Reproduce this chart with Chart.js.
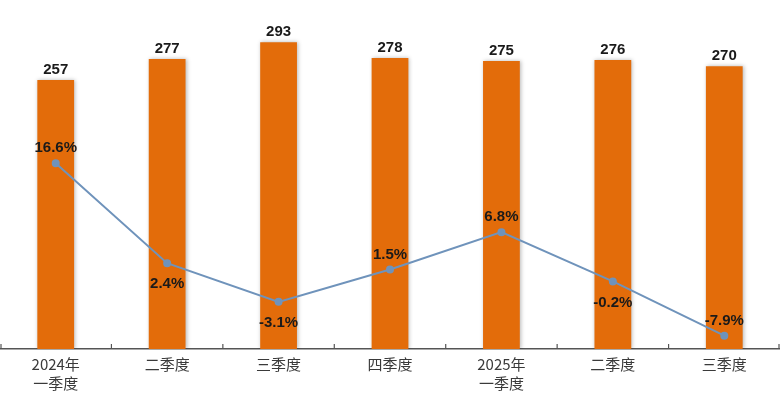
<!DOCTYPE html>
<html>
<head>
<meta charset="utf-8">
<script src="https://cdn.jsdelivr.net/npm/chart.js@4"></script>
<style>
  body { margin: 0; background: #fff; }
  #wrap { width: 780px; height: 396px; position: relative; }
</style>
</head>
<body>
<div id="wrap"><canvas id="c"></canvas></div>
<script>
// quarter labels
var categories = [['2024年', '一季度'], '二季度', '三季度', '四季度', ['2025年', '一季度'], '二季度', '三季度'];
// bar values
var amounts = [257, 277, 293, 278, 275, 276, 270];
// growth rate, %
var growth = [16.6, 2.4, -3.1, 1.5, 6.8, -0.2, -7.9];
// where each growth label sits relative to its point
var growthLabelSide = ['above', 'below', 'below', 'above', 'above', 'below', 'above'];

var NUM_FONT = 'bold 15px "Liberation Sans", Arial, sans-serif';

// soft shadow on the bars
var barShadow = {
    id: 'barShadow',
    beforeDatasetDraw: function(chart, args) {
        if (args.index !== 0) return;
        var ctx = chart.ctx;
        ctx.save();
        ctx.shadowColor = 'rgba(0,0,0,0.28)';
        ctx.shadowBlur = 4;
        ctx.shadowOffsetX = 1;
        ctx.shadowOffsetY = 0;
    },
    afterDatasetDraw: function(chart, args) {
        if (args.index !== 0) return;
        chart.ctx.restore();
    }
};

// tick marks pointing up into the plot, at category boundaries
var innerTicks = {
    id: 'innerTicks',
    afterDraw: function(chart) {
        var xs = chart.scales.x;
        var ctx = chart.ctx;
        var step = xs.getPixelForValue(1) - xs.getPixelForValue(0);
        var y = chart.chartArea.bottom;
        ctx.save();
        ctx.strokeStyle = '#555';
        ctx.lineWidth = 1.2;
        for (var i = 0; i <= categories.length; i++) {
            var x = xs.getPixelForValue(0) - step / 2 + i * step;
            x = Math.max(1, Math.min(chart.width - 1, x));
            ctx.beginPath();
            ctx.moveTo(x, y - 5);
            ctx.lineTo(x, y);
            ctx.stroke();
        }
        ctx.restore();
    }
};

// value labels for bars and line points
var valueLabels = {
    id: 'valueLabels',
    afterDatasetsDraw: function(chart) {
        var ctx = chart.ctx;
        ctx.save();
        ctx.font = NUM_FONT;
        ctx.fillStyle = '#1a1a1a';
        ctx.textAlign = 'center';

        chart.getDatasetMeta(0).data.forEach(function(bar, i) {
            ctx.textBaseline = 'bottom';
            ctx.fillText(String(amounts[i]), bar.x, bar.y - 3);
        });

        chart.getDatasetMeta(1).data.forEach(function(pt, i) {
            ctx.textBaseline = 'middle';
            var dy = growthLabelSide[i] === 'above' ? -15 : 21;
            ctx.fillText(growth[i].toFixed(1) + '%', pt.x, pt.y + dy);
        });
        ctx.restore();
    }
};

new Chart(document.getElementById('c'), {
    data: {
        labels: categories,
        datasets: [
            {
                type: 'bar',
                label: 'amount',
                data: amounts,
                backgroundColor: '#E36C0A',
                barPercentage: 0.66,
                categoryPercentage: 0.5,
                yAxisID: 'y',
                order: 2
            },
            {
                type: 'line',
                label: 'growth',
                data: growth,
                borderColor: '#6f93bb',
                backgroundColor: '#6f93bb',
                borderWidth: 2,
                pointRadius: 3,
                pointBackgroundColor: '#6f93bb',
                tension: 0,
                yAxisID: 'y1',
                order: 1
            }
        ]
    },
    options: {
        responsive: true,
        maintainAspectRatio: false,
        animation: false,
        layout: { autoPadding: false, padding: { top: 14, left: 0, right: 0, bottom: 0 } },
        plugins: {
            legend: { display: false },
            tooltip: { enabled: false }
        },
        scales: {
            x: {
                grid: { display: false },
                border: { display: true, color: '#555', width: 1.5 },
                ticks: {
                    color: '#3a3a3a',
                    padding: -2,
                    maxRotation: 0,
                    autoSkip: false,
                    font: { family: '"Noto Sans CJK SC", sans-serif', size: 15, lineHeight: 1.25 }
                },
                afterFit: function(scale) {
                    scale.height = 47;
                    scale.paddingLeft = 0;
                    scale.paddingRight = 0;
                }
            },
            y: {
                display: false,
                min: 0,
                max: 320
            },
            y1: {
                display: false,
                position: 'right',
                min: -9.8,
                max: 37.8
            }
        }
    },
    plugins: [barShadow, innerTicks, valueLabels]
});
</script>
</body>
</html>
